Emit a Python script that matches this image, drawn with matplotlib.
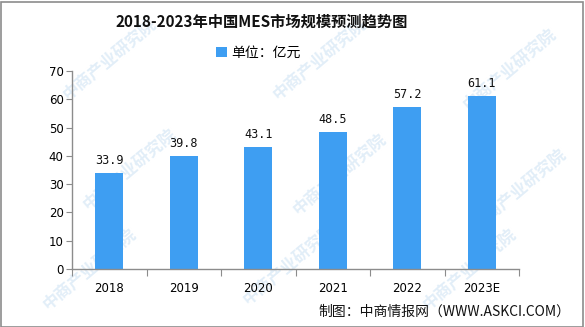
import matplotlib
matplotlib.use("Agg")
import matplotlib.pyplot as plt
from matplotlib.patches import Rectangle

plt.rcParams['font.family'] = ['Noto Sans CJK SC', 'DejaVu Sans']

years = ["2018", "2019", "2020", "2021", "2022", "2023E"]
market_size = [33.9, 39.8, 43.1, 48.5, 57.2, 61.1]
y_ticks = [0, 10, 20, 30, 40, 50, 60, 70]

title = "2018-2023年中国MES市场规模预测趋势图"
legend_label = "单位：亿元"
source_text = "制图：中商情报网（WWW.ASKCI.COM）"
watermark = "中商产业研究院"

bar_color = "#3E9EF2"
axis_color = "#8C8C8C"

W, H = 585, 327
fig = plt.figure(figsize=(W / 100, H / 100), dpi=100)

# faint diagonal watermark, kept behind the chart
for (wx, wy) in [(110, 60), (320, 60), (510, 70), (130, 170), (340, 175), (520, 190),
                 (90, 270), (290, 265), (470, 270)]:
    fig.text(wx / W, 1 - wy / H, watermark, fontsize=12, color="#E2EEF8",
             rotation=40, ha="center", va="center", fontweight="bold", zorder=-1)

ax = fig.add_axes([72 / W, 1 - 269 / H, (519 - 72) / W, (269 - 71) / H])
ax.patch.set_alpha(0)

x = list(range(len(years)))
ax.bar(x, market_size, width=0.37, color=bar_color, zorder=2, label=legend_label)
for xi, v in zip(x, market_size):
    ax.text(xi, v + 2.2, f"{v:.1f}", ha="center", va="bottom", fontsize=8.5,
            family="DejaVu Sans Mono", color="#111111")

ax.set_xlim(-0.5, len(years) - 0.5)
ax.set_ylim(0, 70)
ax.set_yticks(y_ticks)
ax.set_yticklabels([str(t) for t in y_ticks], fontsize=8.5, family="DejaVu Sans")

# category boundary ticks on x axis
ax.set_xticks([i - 0.5 for i in range(len(years) + 1)])
ax.set_xticklabels([])
ax.set_xticks(x, minor=True)
ax.set_xticklabels(years, minor=True, fontsize=8.5, family="DejaVu Sans")
ax.tick_params(axis="x", which="minor", length=0, pad=9)
ax.tick_params(axis="x", which="major", length=5, color=axis_color, direction="out")
ax.tick_params(axis="y", length=4, color=axis_color, direction="out", pad=2)

for s in ["top", "right"]:
    ax.spines[s].set_visible(False)
for s in ["left", "bottom"]:
    ax.spines[s].set_color(axis_color)
    ax.spines[s].set_linewidth(1.0)

fig.text(262 / W, 1 - 22 / H, title, ha="center", va="center", fontsize=11,
         fontweight="bold", color="#111111")

leg = fig.legend(loc="center", bbox_to_anchor=(258 / W, 1 - 53 / H), frameon=False,
                 fontsize=10, handlelength=0.8, handleheight=0.8, handletextpad=0.3)

fig.text(570 / W, 1 - 312 / H, source_text, ha="right", va="center", fontsize=10,
         color="#111111")

fig.patches.append(Rectangle((0.5 / W, 0.5 / H), (W - 3) / W, (H - 2) / H,
                             transform=fig.transFigure, fill=False,
                             edgecolor="#8C8C8C", linewidth=1.2))

fig.savefig("out.png", dpi=100)
